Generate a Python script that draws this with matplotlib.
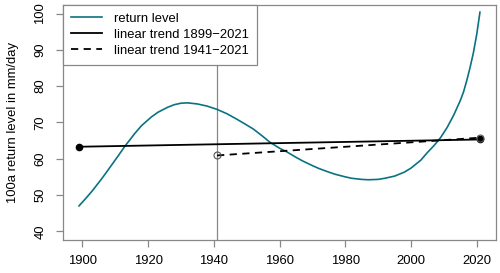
import matplotlib.pyplot as plt
from matplotlib.lines import Line2D

# return level curve
years = [1899, 1901, 1903, 1906, 1908, 1911, 1913, 1916, 1918, 1921, 1923,
         1926, 1928, 1930, 1932, 1935, 1938, 1941, 1944, 1947, 1950, 1952,
         1955, 1957, 1960, 1962, 1965, 1967, 1970, 1972, 1975, 1977, 1980,
         1982, 1985, 1987, 1990, 1992, 1995, 1998, 2000, 2003, 2005, 2007,
         2009, 2011, 2013, 2015, 2016, 2017, 2018, 2019, 2020, 2021]
return_level = [47.0, 49.0, 51.1, 54.6, 57.1, 60.9, 63.5, 67.0, 69.1, 71.5,
                72.8, 74.2, 74.9, 75.3, 75.4, 75.1, 74.5, 73.6, 72.4, 70.9,
                69.3, 68.2, 66.1, 64.6, 62.9, 62.0, 60.4, 59.4, 58.1, 57.3,
                56.3, 55.7, 55.0, 54.6, 54.3, 54.2, 54.3, 54.6, 55.2, 56.3,
                57.4, 59.6, 61.7, 63.6, 65.8, 68.6, 72.0, 76.0, 78.4, 81.6,
                85.2, 89.2, 94.2, 100.4]

# linear trends (end points)
trend_full_x = [1899, 2021]
trend_full_y = [63.3, 65.3]
trend_late_x = [1941, 2021]
trend_late_y = [60.9, 65.8]
split_year = 1941

legend_labels = ['return level', 'linear trend 1899\u22122021', 'linear trend 1941\u22122021']

teal = '#0a7380'
gray = '#888888'

plt.rcParams['font.family'] = ['Liberation Sans', 'DejaVu Sans']
plt.rcParams['font.size'] = 9.4

fig = plt.figure(figsize=(5, 2.73), dpi=100)
ax = fig.add_axes([0.126, 0.121, 0.866, 0.861])

ax.axvline(split_year, color=gray, lw=0.9, zorder=1)
ax.plot(years, return_level, color=teal, lw=1.2, zorder=3)
ax.plot(trend_full_x, trend_full_y, color='black', lw=1.3, zorder=4)
ax.plot(trend_full_x, trend_full_y, 'o', color='black', ms=4.5, zorder=5)
ax.plot(trend_late_x, trend_late_y, color='black', lw=1.3, ls=(0, (4, 3)), zorder=4)
ax.plot(trend_late_x, trend_late_y, 'o', mfc='none', mec='#555555', mew=0.8, ms=5, zorder=5)

ax.set_xlim(1894.12, 2025.88)
ax.set_ylim(37.6, 102.4)
ax.set_xticks([1900, 1920, 1940, 1960, 1980, 2000, 2020])
ax.set_yticks([40, 50, 60, 70, 80, 90, 100])
for sp in ax.spines.values():
    sp.set_color(gray)
    sp.set_linewidth(0.9)
ax.tick_params(axis='both', colors=gray, labelcolor='black', length=5, width=0.9)
ax.tick_params(axis='x', pad=6)
ax.tick_params(axis='y', pad=7)
for lab in ax.get_yticklabels():
    lab.set_rotation(90)
    lab.set_va('center')
ax.set_ylabel('100a return level in mm/day', labelpad=11)

handles = [Line2D([], [], color=teal, lw=1.2),
           Line2D([], [], color='black', lw=1.3),
           Line2D([], [], color='black', lw=1.3, ls=(0, (4, 3)))]
leg = ax.legend(handles, legend_labels, loc='upper left', bbox_to_anchor=(0, 1),
                borderaxespad=0, fancybox=False, framealpha=1, edgecolor=gray,
                handlelength=2.4, handletextpad=0.9, labelspacing=0.3,
                borderpad=0.6)
leg.get_frame().set_linewidth(0.9)
leg.set_zorder(10)

fig.savefig('out.png', dpi=100)
